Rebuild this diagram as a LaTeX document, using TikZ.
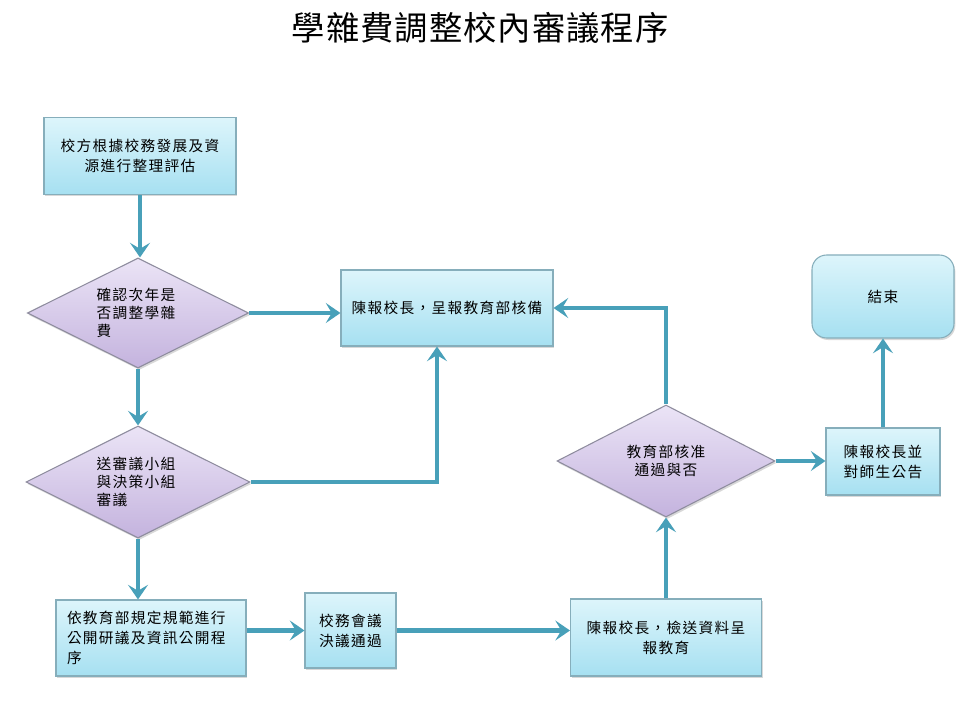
\documentclass[tikz,border=0pt]{standalone}
\usepackage{fontspec}
\newfontfamily\cjk[LetterSpace=9]{Noto Sans CJK TC}
\newfontfamily\cjktitle[LetterSpace=3]{Noto Sans CJK TC}
\usetikzlibrary{shapes.geometric,arrows.meta,shadows}
\definecolor{boxtop}{HTML}{DDF5FB}
\definecolor{boxbot}{HTML}{A6E0F1}
\definecolor{boxline}{HTML}{86AEBB}
\definecolor{diatop}{HTML}{EBE4F6}
\definecolor{diabot}{HTML}{C4B3DE}
\definecolor{dialine}{HTML}{8E8C9E}
\definecolor{arrcol}{RGB}{72,160,185}
\begin{document}
\begin{tikzpicture}[x=0.75pt,y=-0.75pt,
  shadowed/.style={drop shadow={shadow xshift=1pt,shadow yshift=-1.5pt,opacity=0.25,fill=black!60}},
  box/.style={draw=boxline,line width=0.8pt,top color=boxtop,bottom color=boxbot,
    font=\cjk\fontsize{11}{15}\selectfont,align=center,inner sep=0pt,shadowed},
  dia/.style={diamond,aspect=2,draw=dialine,line width=0.8pt,top color=diatop,bottom color=diabot,
    font=\cjk\fontsize{11}{13.5}\selectfont,inner sep=0pt,shadowed},
  arr/.style={draw=arrcol,line width=3.5pt,-{Stealth[length=11pt,width=15pt,inset=4.5pt]}}]
\useasboundingbox (0,0) rectangle (960,720);
\fill[white] (0,0) rectangle (960,720);

\node[font=\cjktitle\fontsize{25}{30}\selectfont] (title) at (480,28) {學雜費調整校內審議程序};

\node[box,minimum width=144pt,minimum height=57.75pt] (A) at (140,156) {校方根據校務發展及資\\源進行整理評估};
\node[dia,minimum width=166pt,minimum height=82.5pt,align=left,text width=62pt] (B) at (138,313) {確認次年是\\否調整學雜\\費};
\node[dia,minimum width=168pt,minimum height=84pt,align=left,text width=62pt] (C) at (138,482) {送審議小組\\與決策小組\\審議};
\node[box,minimum width=159pt,minimum height=57pt] (D) at (447,308) {陳報校長，呈報教育部核備};
\node[dia,minimum width=163.5pt,minimum height=84pt,align=center] (E) at (666,461) {教育部核准\\通過與否};
\node[box,rounded corners=11pt,minimum width=106.5pt,minimum height=62.25pt] (End) at (883,296.5) {結束};
\node[box,minimum width=85.5pt,minimum height=50.25pt] (K) at (883,461.5) {陳報校長並\\對師生公告};
\node[box,minimum width=142.5pt,minimum height=57pt,text width=126pt,align=left] (F) at (151,638) {依教育部規定規範進行\\公開研議及資訊公開程\\序};
\node[box,minimum width=68.25pt,minimum height=56.25pt] (G) at (350.5,630.5) {校務會議\\決議通過};
\node[box,minimum width=143.25pt,minimum height=57.75pt] (H) at (666,637.5) {陳報校長，檢送資料呈\\報教育};

\draw[arr] (A.south) -- (A.south |- B.north);
\draw[arr] (B.east) -- (B.east -| D.west);
\draw[arr] (B.south) -- (B.south |- C.north);
\draw[arr] (C.east) -| ([xshift=-7.5pt]D.south);
\draw[arr] (C.south) -- (C.south |- F.north);
\draw[arr] (G.west -| F.east) -- (G.west);
\draw[arr] (G.east) -- (G.east -| H.west);
\draw[arr] (H.north) -- (E.south);
\draw[arr] (E.north) |- (D.east);
\draw[arr] (E.east) -- (E.east -| K.west);
\draw[arr] (K.north) -- (End.south);
\end{tikzpicture}
\end{document}
